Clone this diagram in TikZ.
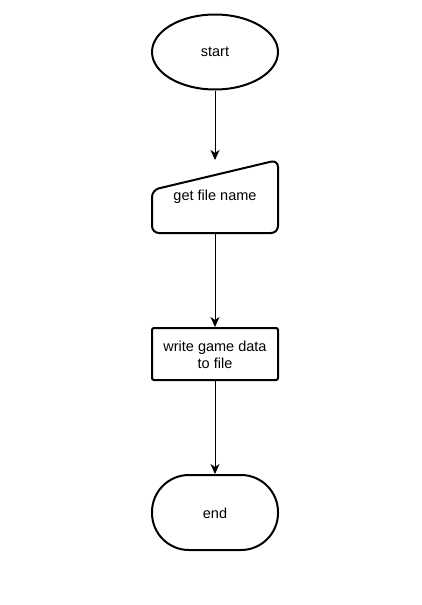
\documentclass[tikz,border=0pt]{standalone}
\usepackage{fontspec}
\setmainfont{Liberation Sans}
\usetikzlibrary{arrows.meta,shapes.geometric}
\begin{document}
\begin{tikzpicture}[x=1pt,y=-1pt,
  shapeline/.style={line width=2pt, draw=black},
  lbl/.style={font=\fontsize{14.5}{17}\selectfont, align=center},
  conn/.style={-{Stealth[length=10pt,width=9pt,inset=3pt]}, line width=1pt}]
\useasboundingbox (0,0) rectangle (421,605);
% start
\node[ellipse, shapeline, minimum width=126pt, minimum height=75pt, inner sep=0pt] (start) at (215,52) {};
\node[lbl] at (215,52) {start};
% manual input
\draw[shapeline, rounded corners=7pt] (152,190) -- (278,160) -- (278,233) -- (152,233) -- cycle;
\coordinate (inTop) at (215,160);
\coordinate (inBot) at (215,233);
\node[lbl] (intext) at (215,197) {get file name};
% process
\node[shapeline, rounded corners=2pt, minimum width=126pt, minimum height=52pt, inner sep=0pt] (proc) at (215,354) {};
\node[lbl] at (215,355) {write game data\\to file};
% end
\node[shapeline, rounded corners=37pt, minimum width=126pt, minimum height=75pt, inner sep=0pt] (stop) at (215,512.5) {};
\node[lbl] at (215,513) {end};
% connectors
\draw[conn] (start.south) -- (inTop);
\draw[conn] (inBot) -- (proc.north);
\draw[conn] (proc.south) -- (stop.north);
\end{tikzpicture}
\end{document}
